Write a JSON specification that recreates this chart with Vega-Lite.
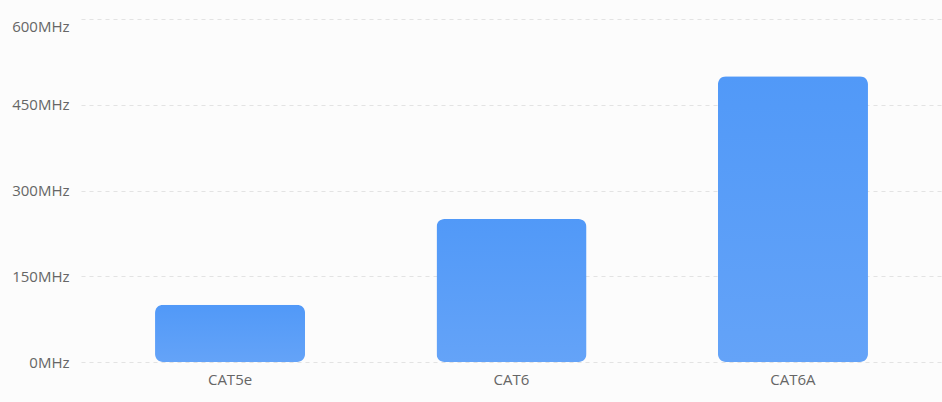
{
  "$schema": "https://vega.github.io/schema/vega-lite/v6.json",
  "background": "#fcfcfc",
  "autosize": "none",
  "padding": {"left": 81, "top": 19, "right": 0, "bottom": 40},
  "width": 861,
  "height": 343,
  "data": {
    "values": [
      {"category": "CAT5e", "bandwidth": 100},
      {"category": "CAT6", "bandwidth": 250},
      {"category": "CAT6A", "bandwidth": 500}
    ]
  },
  "config": {
    "view": {"stroke": null},
    "font": "Open Sans"
  },
  "mark": {
    "type": "bar",
    "cornerRadius": 8,
    "color": {
      "gradient": "linear",
      "x1": 0, "y1": 0, "x2": 0, "y2": 1,
      "stops": [
        {"offset": 0, "color": "#5199f8"},
        {"offset": 1, "color": "#64a3f8"}
      ]
    }
  },
  "encoding": {
    "x": {
      "field": "category",
      "type": "nominal",
      "sort": null,
      "scale": {"paddingInner": 0.467, "paddingOuter": 0.263},
      "axis": {
        "title": null,
        "labelAngle": 0,
        "domain": false,
        "ticks": false,
        "labelPadding": 10,
        "labelFontSize": 15,
        "labelColor": "#666666"
      }
    },
    "y": {
      "field": "bandwidth",
      "type": "quantitative",
      "scale": {"domain": [0, 600], "nice": false},
      "axis": {
        "title": null,
        "values": [0, 150, 300, 450, 600],
        "labelExpr": "datum.value + 'MHz'",
        "labelBaseline": {"expr": "datum.value == 600 ? 'top' : 'middle'"},
        "domain": false,
        "ticks": false,
        "labelPadding": 12,
        "labelFontSize": 15,
        "labelColor": "#666666",
        "gridColor": "#e3e3e3",
        "gridDash": [4, 4]
      }
    }
  }
}
